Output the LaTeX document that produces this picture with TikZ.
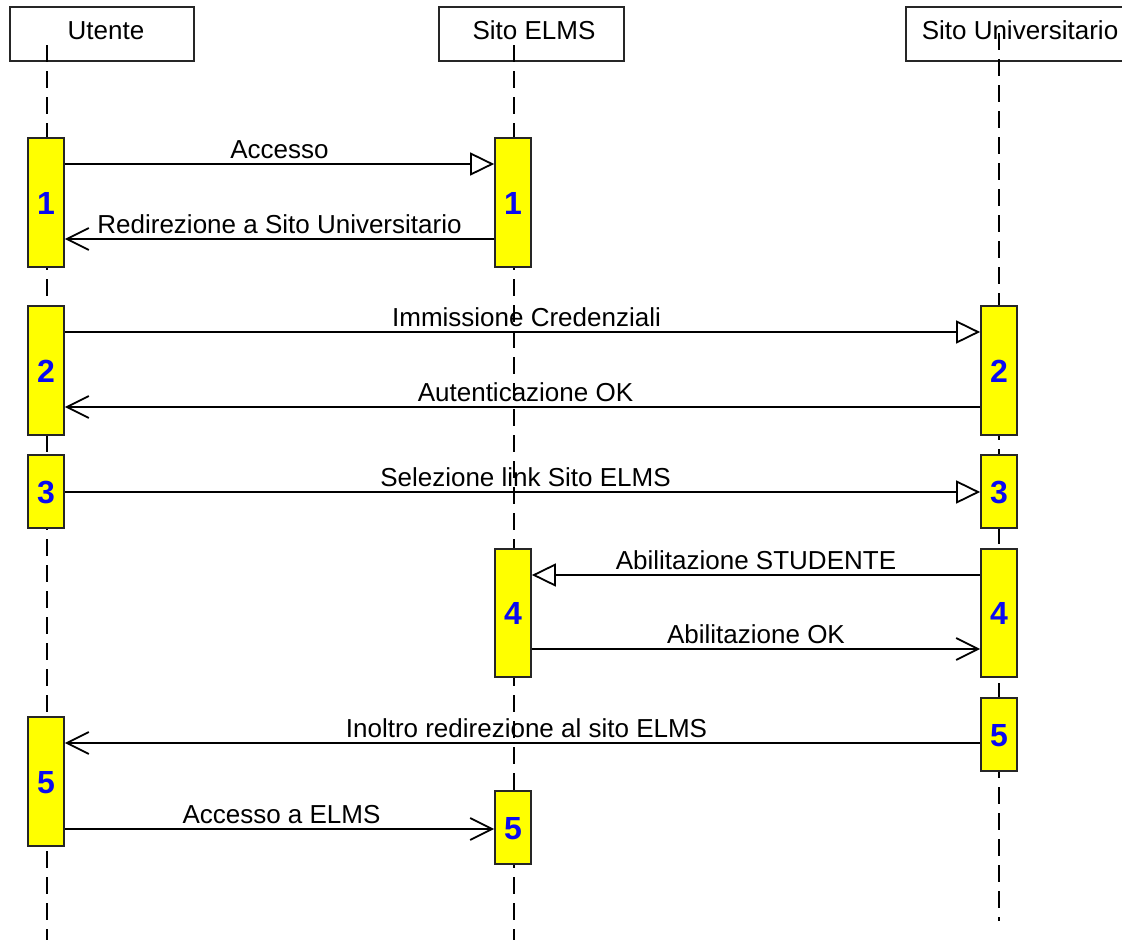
\documentclass[tikz,border=0pt]{standalone}
\usepackage{fontspec}
\setmainfont{Liberation Sans}
\usetikzlibrary{arrows.meta}
\definecolor{actyellow}{RGB}{255,255,0}
\definecolor{stepblue}{RGB}{10,10,240}
\begin{document}
\begin{tikzpicture}[x=1pt,y=-1pt,
  hdr/.style={draw=black!85, line width=1.7pt, fill=white, minimum height=54pt,
    inner sep=0pt, text height=20pt, text depth=10pt,
    font=\fontsize{26}{30}\selectfont},
  life/.style={black, line width=1.7pt, dash pattern=on 17pt off 9pt},
  act/.style={draw=black!85, line width=1.7pt, fill=actyellow, minimum width=36pt,
    inner sep=0pt, text=stepblue, text height=23pt, text depth=-2pt,
    font=\fontsize{32}{34}\selectfont\bfseries},
  msg/.style={line width=1.8pt, black},
  call/.style={msg, -{Triangle[open, length=24pt, width=23pt]}},
  ret/.style={msg, -{Straight Barb[length=22pt, width=22pt]}},
  lbl/.style={anchor=base, yshift=6pt, inner sep=0pt,
    font=\fontsize{26}{30}\selectfont}
]
\useasboundingbox (0,0) rectangle (1122,940);
\clip (0,0) rectangle (1122,940);

% participants
\node[hdr, minimum width=184pt] (hu) at (102,34) {\hspace{8pt}Utente};
\node[hdr, minimum width=185pt] (he) at (531.5,34) {\hspace{5pt}Sito ELMS};
\node[hdr, minimum width=228pt] (hs) at (1020,34) {Sito Universitario};

% lifelines
\draw[life] (47,45) -- (47,940);
\draw[life] (514,45) -- (514,940);
\draw[life] (999,33) -- (999,921);

% activations: Utente
\node[act, minimum height=129pt] (u1) at (46,202.5) {1};
\node[act, minimum height=129pt] (u2) at (46,370.5) {2};
\node[act, minimum height=73pt]  (u3) at (46,491.5) {3};
\node[act, minimum height=129pt] (u5) at (46,781.5) {5};
% activations: Sito ELMS
\node[act, minimum height=129pt] (e1) at (513,202.5) {1};
\node[act, minimum height=128pt] (e4) at (513,613) {4};
\node[act, minimum height=73pt]  (e5) at (513,827.5) {5};
% activations: Sito Universitario
\node[act, minimum height=129pt] (s2) at (999,370.5) {2};
\node[act, minimum height=73pt]  (s3) at (999,491.5) {3};
\node[act, minimum height=128pt] (s4) at (999,613) {4};
\node[act, minimum height=73pt]  (s5) at (999,734.5) {5};

% messages
\draw[call] (u1.east |- 0,164) -- node[lbl] {Accesso} (e1.west |- 0,164);
\draw[ret] (e1.west |- 0,239) -- node[lbl] {Redirezione a Sito Universitario} (u1.east |- 0,239);
\draw[call] (u2.east |- 0,332) -- node[lbl, xshift=4pt] {Immissione Credenziali} (s2.west |- 0,332);
\draw[ret] (s2.west |- 0,407) -- node[lbl, xshift=3pt] {Autenticazione OK} (u2.east |- 0,407);
\draw[call] (u3.east |- 0,492) -- node[lbl, xshift=3pt] {Selezione link Sito ELMS} (s3.west |- 0,492);
\draw[call] (s4.west |- 0,575) -- node[lbl] {Abilitazione STUDENTE} (e4.east |- 0,575);
\draw[ret] (e4.east |- 0,649) -- node[lbl] {Abilitazione OK} (s4.west |- 0,649);
\draw[ret] (s5.west |- 0,743) -- node[lbl, xshift=4pt] {Inoltro redirezione al sito ELMS} (u5.east |- 0,743);
\draw[ret] (u5.east |- 0,829) -- node[lbl, xshift=2pt] {Accesso a ELMS} (e5.west |- 0,829);
\end{tikzpicture}
\end{document}
